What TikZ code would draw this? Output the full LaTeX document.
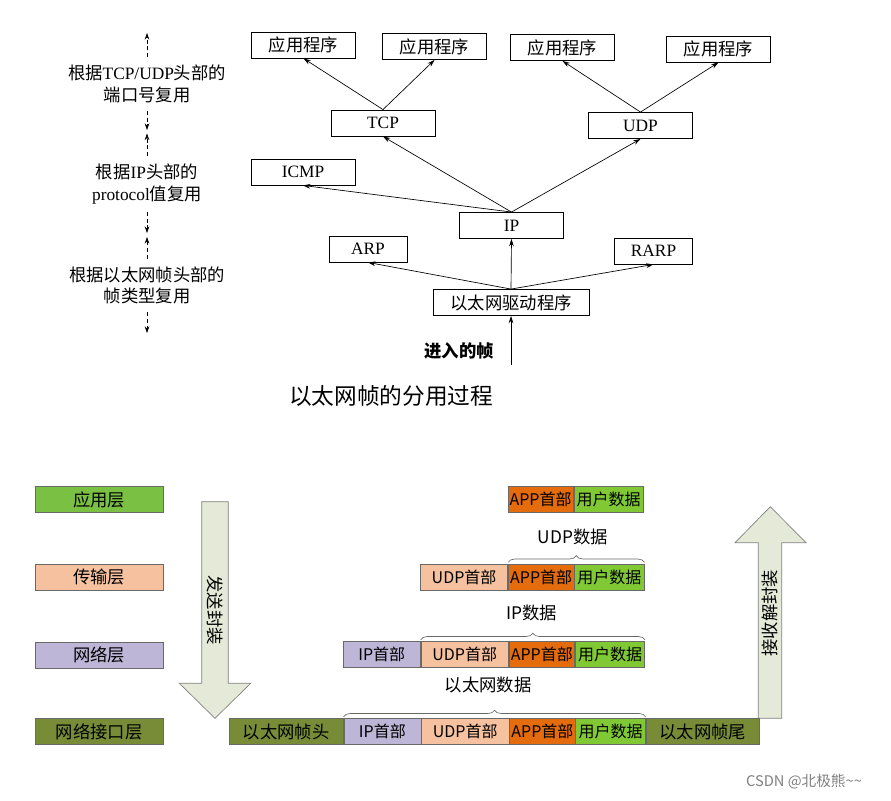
\documentclass[tikz,border=0pt]{standalone}
\usepackage{fontspec}
\setmainfont{Liberation Serif}
\newfontfamily\cjk{Noto Sans CJK SC}
\usetikzlibrary{positioning}
\usetikzlibrary{arrows.meta}
\usetikzlibrary{decorations.pathreplacing}

\definecolor{appgreen}{RGB}{122,192,66}
\definecolor{datagreen}{RGB}{128,200,52}
\definecolor{udppeach}{RGB}{245,193,158}
\definecolor{iplilac}{RGB}{190,182,215}
\definecolor{etholive}{RGB}{120,140,56}
\definecolor{apporange}{RGB}{228,108,12}
\definecolor{arrowfill}{RGB}{228,233,216}
\definecolor{cellline}{RGB}{105,105,105}

\tikzset{
    topbox/.style={rectangle, draw=black, line width=0.65pt, minimum width=78pt, minimum height=19.5pt, inner sep=0pt, font=\fontsize{13}{15}\selectfont},
    sidelabel/.style={align=center, inner xsep=0pt, inner ysep=6pt, font=\fontsize{13}{16}\selectfont\cjk},
    demux/.style={->, line width=0.5pt},
    hintarrow/.style={-{Stealth[length=5pt, width=3.5pt]}, dash pattern=on 3pt off 2pt, line width=0.5pt},
    layerbox/.style={rectangle, draw=cellline, line width=0.5pt, minimum width=96pt, minimum height=19.5pt, inner sep=0pt, font=\fontsize{13}{15}\selectfont\cjk},
    cellbox/.style={rectangle, draw=cellline, line width=0.5pt, minimum height=19.5pt, inner sep=0pt, font=\fontsize{12}{14}\selectfont\cjk},
    ipcell/.style={cellbox, fill=iplilac, minimum width=57.75pt},
    udpcell/.style={cellbox, fill=udppeach, minimum width=65.6pt},
    appcell/.style={cellbox, fill=apporange, minimum width=49.1pt},
    datacell/.style={cellbox, fill=datagreen, minimum width=52.1pt},
    ethcell/.style={cellbox, fill=etholive, minimum width=85.4pt, font=\fontsize{13}{15}\selectfont\cjk},
    bracetop/.style={decorate, decoration={brace, amplitude=5pt, raise=1pt}, draw=cellline, line width=0.5pt},
    bigarrow/.style={draw=gray, fill=arrowfill, line width=0.5pt},
    plainlabel/.style={font=\fontsize{13}{15}\selectfont\cjk},
}

\begin{document}
\begin{tikzpicture}[x=0.75pt, y=-0.75pt, >={Stealth[length=5.5pt, width=3.5pt]}]
    \useasboundingbox [fill=white] (0,0) rectangle (891,800);

    % demultiplexing of an ethernet frame
    \node [topbox] (app1) at (303.5,45) {\cjk 应用程序};
    \node [topbox] (app2) at (434.5,46.5) {\cjk 应用程序};
    \node [topbox] (app3) at (562.5,47.5) {\cjk 应用程序};
    \node [topbox] (app4) at (718.5,49) {\cjk 应用程序};
    \node [topbox] (tcp) at (383,123) {TCP};
    \node [topbox] (udp) at (640.5,125.5) {UDP};
    \node [topbox] (icmp) at (303,172) {ICMP};
    \node [topbox] (ip) at (511.5,225.5) {IP};
    \node [topbox, minimum width=58.5pt] (arp) at (368,249) {ARP};
    \node [topbox, minimum width=58.5pt] (rarp) at (653.5,251) {RARP};
    \node [topbox, minimum width=117pt] (driver) at (511,302.5) {\cjk 以太网驱动程序};
    \coordinate (inframe) at (511,365);
    \node [plainlabel, font=\fontsize{13}{15}\selectfont\cjk\bfseries] (inlabel) at (459,351) {进入的帧};
    \node [font=\fontsize{17}{20}\selectfont\cjk] (caption) at (391,396) {以太网帧的分用过程};

    \draw [demux] (tcp.north) -- (app1.south);
    \draw [demux] (tcp.north) -- (app2.south);
    \draw [demux] (udp.north) -- (app3.south);
    \draw [demux] (udp.north) -- (app4.south);
    \draw [demux] (ip.north) -- (tcp.south);
    \draw [demux] (ip.north) -- (udp.south);
    \draw [demux] (ip.north) -- (icmp.south);
    \draw [demux] (driver.north) -- (ip.south);
    \draw [demux] (driver.north) -- (arp.south);
    \draw [demux] (driver.north) -- (rarp.south);
    \draw [demux] (inframe) -- (driver.south);

    % notes on the left
    \node [sidelabel] (tcpudpnote) at (147,84) {根据{\rmfamily TCP/UDP}头部的\\端口号复用};
    \node [sidelabel] (ipnote) at (147,184) {根据{\rmfamily IP}头部的\\{\rmfamily protocol}值复用};
    \node [sidelabel] (ethnote) at (147,285.5) {根据以太网帧头部的\\帧类型复用};
    \coordinate (n1top) at (147,33);
    \coordinate (n1bot) at (147,130);
    \coordinate (n2top) at (147,133.5);
    \coordinate (n2bot) at (147,233);
    \coordinate (n3top) at (147,237);
    \coordinate (n3bot) at (147,333);
    \draw [hintarrow] (tcpudpnote) -- (n1top);
    \draw [hintarrow] (tcpudpnote) -- (n1bot);
    \draw [hintarrow] (ipnote) -- (n2top);
    \draw [hintarrow] (ipnote) -- (n2bot);
    \draw [hintarrow] (ethnote) -- (n3top);
    \draw [hintarrow] (ethnote) -- (n3bot);

    % layers
    \node [layerbox, fill=appgreen] (applayer) at (99,499.5) {应用层};
    \node [layerbox, fill=udppeach] (translayer) at (99,577) {传输层};
    \node [layerbox, fill=iplilac] (netlayer) at (99,655) {网络层};
    \node [layerbox, fill=etholive] (linklayer) at (99,731.5) {网络接口层};

    % big arrows
    \draw [bigarrow] (201.7,501.7) -- (228.3,501.7) -- (228.3,683.3) -- (250.7,683.3) -- (215,718.3) -- (179.3,683.3) -- (201.7,683.3) -- cycle;
    \node [plainlabel, rotate=-90] (sendnote) at (215,610) {发送封装};
    \draw [bigarrow] (758.3,718.3) -- (781.7,718.3) -- (781.7,542.7) -- (806,542.7) -- (770.3,506.7) -- (735,542.7) -- (758.3,542.7) -- cycle;
    \node [plainlabel, rotate=90] (recvnote) at (770,613) {接收解封装};

    % packets
    \node [appcell, anchor=west] (apph1) at (507.5,499.5) {APP首部};
    \node [datacell, right=0pt of apph1] (data1) {用户数据};

    \node [udpcell, anchor=west] (udph2) at (420,577) {UDP首部};
    \node [appcell, right=0pt of udph2] (apph2) {APP首部};
    \node [datacell, right=0pt of apph2] (data2) {用户数据};

    \node [ipcell, anchor=west] (iph3) at (343,654.5) {IP首部};
    \node [udpcell, right=0pt of iph3] (udph3) {UDP首部};
    \node [appcell, right=0pt of udph3] (apph3) {APP首部};
    \node [datacell, right=0pt of apph3] (data3) {用户数据};

    \node [ethcell, anchor=west] (ethhead) at (229,731.5) {以太网帧头};
    \node [ipcell, right=0pt of ethhead] (iph4) {IP首部};
    \node [udpcell, right=0pt of iph4] (udph4) {UDP首部};
    \node [appcell, right=0pt of udph4] (apph4) {APP首部};
    \node [datacell, right=0pt of apph4] (data4) {用户数据};
    \node [ethcell, right=0pt of data4] (ethtail) {以太网帧尾};

    \draw [bracetop] (apph2.north west) -- (data2.north east);
    \draw [bracetop] (udph3.north west) -- (data3.north east);
    \draw [bracetop] (iph4.north west) -- (data4.north east);
    \node [plainlabel] (udpdata) at (573,536.5) {UDP数据};
    \node [plainlabel] (ipdata) at (531.5,613) {IP数据};
    \node [plainlabel] (ethdata) at (488,685) {以太网数据};

    \node [font=\fontsize{11}{13}\selectfont\cjk, text=gray] (mark) at (804,782) {CSDN @北极熊\textasciitilde\textasciitilde};
\end{tikzpicture}
\end{document}
